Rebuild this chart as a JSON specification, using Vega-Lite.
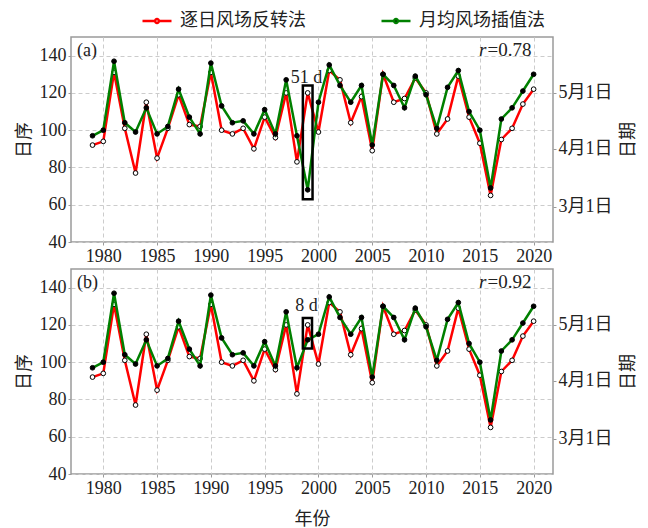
{
  "$schema": "https://vega.github.io/schema/vega-lite/v6.json",
  "padding": {"left": 14, "top": 5, "right": 5, "bottom": 5},
  "background": "white",
  "config": {
    "font": "Liberation Serif, Noto Sans CJK SC",
    "view": {"stroke": "#9a9a9a", "strokeWidth": 1.5},
    "axis": {
      "labelFont": "Liberation Serif, Noto Sans CJK SC",
      "titleFont": "Liberation Serif, Noto Sans CJK SC",
      "labelFontSize": 18, "titleFontSize": 18,
      "labelColor": "#222", "titleColor": "#222",
      "titleFontWeight": "normal",
      "domain": false, "tickColor": "#9a9a9a", "tickSize": 3,
      "labelPadding": 2,
      "gridColor": "#cccccc", "gridDash": [4, 3], "gridWidth": 1
    },
    "legend": {"labelFont": "Liberation Serif, Noto Sans CJK SC"}
  },
  "datasets": {
    "a": [
      {"year": 1979, "daily": 92, "monthly": 97},
      {"year": 1980, "daily": 94, "monthly": 100},
      {"year": 1981, "daily": 131, "monthly": 137},
      {"year": 1982, "daily": 101, "monthly": 104},
      {"year": 1983, "daily": 77, "monthly": 99},
      {"year": 1984, "daily": 115, "monthly": 112},
      {"year": 1985, "daily": 85, "monthly": 98},
      {"year": 1986, "daily": 101, "monthly": 102},
      {"year": 1987, "daily": 119, "monthly": 122},
      {"year": 1988, "daily": 103, "monthly": 107},
      {"year": 1989, "daily": 102, "monthly": 98},
      {"year": 1990, "daily": 131, "monthly": 136},
      {"year": 1991, "daily": 100, "monthly": 113},
      {"year": 1992, "daily": 98, "monthly": 104},
      {"year": 1993, "daily": 101, "monthly": 105},
      {"year": 1994, "daily": 90, "monthly": 98},
      {"year": 1995, "daily": 107, "monthly": 111},
      {"year": 1996, "daily": 96, "monthly": 98},
      {"year": 1997, "daily": 120, "monthly": 127},
      {"year": 1998, "daily": 83, "monthly": 97},
      {"year": 1999, "daily": 120, "monthly": 68},
      {"year": 2000, "daily": 99, "monthly": 115},
      {"year": 2001, "daily": 132, "monthly": 135},
      {"year": 2002, "daily": 127, "monthly": 124},
      {"year": 2003, "daily": 104, "monthly": 115},
      {"year": 2004, "daily": 118, "monthly": 124},
      {"year": 2005, "daily": 89, "monthly": 92},
      {"year": 2006, "daily": 130, "monthly": 130},
      {"year": 2007, "daily": 115, "monthly": 124},
      {"year": 2008, "daily": 117, "monthly": 112},
      {"year": 2009, "daily": 128, "monthly": 129},
      {"year": 2010, "daily": 120, "monthly": 119},
      {"year": 2011, "daily": 98, "monthly": 101},
      {"year": 2012, "daily": 106, "monthly": 123},
      {"year": 2013, "daily": 129, "monthly": 132},
      {"year": 2014, "daily": 107, "monthly": 110},
      {"year": 2015, "daily": 93, "monthly": 100},
      {"year": 2016, "daily": 65, "monthly": 69},
      {"year": 2017, "daily": 95, "monthly": 106},
      {"year": 2018, "daily": 101, "monthly": 112},
      {"year": 2019, "daily": 114, "monthly": 121},
      {"year": 2020, "daily": 122, "monthly": 130}
    ],
    "b": [
      {"year": 1979, "daily": 92, "monthly": 97},
      {"year": 1980, "daily": 94, "monthly": 100},
      {"year": 1981, "daily": 131, "monthly": 137},
      {"year": 1982, "daily": 101, "monthly": 104},
      {"year": 1983, "daily": 77, "monthly": 99},
      {"year": 1984, "daily": 115, "monthly": 112},
      {"year": 1985, "daily": 85, "monthly": 98},
      {"year": 1986, "daily": 101, "monthly": 102},
      {"year": 1987, "daily": 119, "monthly": 122},
      {"year": 1988, "daily": 103, "monthly": 107},
      {"year": 1989, "daily": 102, "monthly": 98},
      {"year": 1990, "daily": 131, "monthly": 136},
      {"year": 1991, "daily": 100, "monthly": 113},
      {"year": 1992, "daily": 98, "monthly": 104},
      {"year": 1993, "daily": 101, "monthly": 105},
      {"year": 1994, "daily": 90, "monthly": 98},
      {"year": 1995, "daily": 107, "monthly": 111},
      {"year": 1996, "daily": 96, "monthly": 98},
      {"year": 1997, "daily": 120, "monthly": 127},
      {"year": 1998, "daily": 83, "monthly": 97},
      {"year": 1999, "daily": 120, "monthly": 112},
      {"year": 2000, "daily": 99, "monthly": 115},
      {"year": 2001, "daily": 132, "monthly": 135},
      {"year": 2002, "daily": 127, "monthly": 124},
      {"year": 2003, "daily": 104, "monthly": 115},
      {"year": 2004, "daily": 118, "monthly": 124},
      {"year": 2005, "daily": 89, "monthly": 92},
      {"year": 2006, "daily": 130, "monthly": 130},
      {"year": 2007, "daily": 115, "monthly": 124},
      {"year": 2008, "daily": 117, "monthly": 112},
      {"year": 2009, "daily": 128, "monthly": 129},
      {"year": 2010, "daily": 120, "monthly": 119},
      {"year": 2011, "daily": 98, "monthly": 101},
      {"year": 2012, "daily": 106, "monthly": 123},
      {"year": 2013, "daily": 129, "monthly": 132},
      {"year": 2014, "daily": 107, "monthly": 110},
      {"year": 2015, "daily": 93, "monthly": 100},
      {"year": 2016, "daily": 65, "monthly": 69},
      {"year": 2017, "daily": 95, "monthly": 106},
      {"year": 2018, "daily": 101, "monthly": 112},
      {"year": 2019, "daily": 114, "monthly": 121},
      {"year": 2020, "daily": 122, "monthly": 130}
    ]
  },
  "vconcat": [
    {
      "width": 482, "height": 205,
      "layer": [
        {
          "data": {"name": "a"},
          "layer": [
            {
              "mark": {"type": "line", "strokeWidth": 2.5},
              "encoding": {
                "x": {"field": "year", "type": "quantitative", "scale": {"domain": [1977, 2021.8], "nice": false, "zero": false}, "axis": {"values": [1980, 1985, 1990, 1995, 2000, 2005, 2010, 2015, 2020], "format": "d", "title": null, "labelFlush": false}},
                "y": {"field": "daily", "type": "quantitative", "scale": {"domain": [40, 150], "nice": false, "zero": false}, "axis": {"values": [40, 50, 60, 70, 80, 90, 100, 110, 120, 130, 140, 150], "labelExpr": "datum.value % 20 == 0 ? datum.label : ''", "title": "日序", "titlePadding": 6, "labelFlush": false}},
                "stroke": {"datum": "逐日风场反转法", "type": "nominal", "scale": {"domain": ["逐日风场反转法", "月均风场插值法"], "range": ["#ff0000", "#008000"]},
                  "legend": {"title": null, "orient": "none", "legendX": 70, "legendY": -32, "direction": "horizontal", "symbolType": "M-1,0L-0.2,0M0.2,0L1,0M-0.13,0A0.13,0.13,0,1,0,0.13,0A0.13,0.13,0,1,0,-0.13,0Z", "symbolSize": 841, "symbolStrokeWidth": 2.5, "labelFontSize": 18, "labelColor": "#222", "labelOffset": 7, "columnPadding": 70}}
              }
            },
            {
              "mark": {"type": "point", "filled": true, "size": 22, "stroke": "black", "strokeWidth": 1, "opacity": 1},
              "encoding": {
                "x": {"field": "year", "type": "quantitative", "scale": {"domain": [1977, 2021.8], "nice": false, "zero": false}},
                "y": {"field": "daily", "type": "quantitative", "scale": {"domain": [40, 150], "nice": false, "zero": false}},
                "fill": {"datum": "逐日风场反转法", "type": "nominal", "scale": {"domain": ["逐日风场反转法", "月均风场插值法"], "range": ["white", "black"]},
                  "legend": {"title": null, "orient": "none", "legendX": 70, "legendY": -32, "direction": "horizontal", "symbolType": "M-1,0L-0.2,0M0.2,0L1,0M-0.13,0A0.13,0.13,0,1,0,0.13,0A0.13,0.13,0,1,0,-0.13,0Z", "symbolSize": 841, "symbolStrokeWidth": 2.5, "labelFontSize": 18, "labelColor": "#222", "labelOffset": 7, "columnPadding": 70}}
              }
            },
            {
              "mark": {"type": "line", "strokeWidth": 2.5},
              "encoding": {
                "x": {"field": "year", "type": "quantitative", "scale": {"domain": [1977, 2021.8], "nice": false, "zero": false}},
                "y": {"field": "monthly", "type": "quantitative", "scale": {"domain": [40, 150], "nice": false, "zero": false}},
                "stroke": {"datum": "月均风场插值法", "type": "nominal"}
              }
            },
            {
              "mark": {"type": "point", "filled": true, "size": 22, "stroke": "black", "strokeWidth": 1, "opacity": 1},
              "encoding": {
                "x": {"field": "year", "type": "quantitative", "scale": {"domain": [1977, 2021.8], "nice": false, "zero": false}},
                "y": {"field": "monthly", "type": "quantitative", "scale": {"domain": [40, 150], "nice": false, "zero": false}},
                "fill": {"datum": "月均风场插值法", "type": "nominal"}
              }
            },
            {
              "data": {"values": [{}]},
              "mark": {"type": "rect", "filled": false, "stroke": "black", "strokeWidth": 2.5},
              "encoding": {
                "x": {"datum": 1998.55, "type": "quantitative", "scale": {"domain": [1977, 2021.8], "nice": false, "zero": false}},
                "x2": {"datum": 1999.45},
                "y": {"datum": 63, "type": "quantitative", "scale": {"domain": [40, 150], "nice": false, "zero": false}},
                "y2": {"datum": 124}
              }
            },
            {
              "data": {"values": [{}]},
              "mark": {"type": "text", "text": "51 d", "fontSize": 18, "align": "center", "baseline": "alphabetic", "color": "#222"},
              "encoding": {
                "x": {"datum": 1998.9, "type": "quantitative", "scale": {"domain": [1977, 2021.8], "nice": false, "zero": false}},
                "y": {"datum": 125.5, "type": "quantitative", "scale": {"domain": [40, 150], "nice": false, "zero": false}}
              }
            },
            {
              "data": {"values": [{}]},
              "mark": {"type": "text", "text": "(a)", "fontSize": 18, "align": "left", "baseline": "middle", "color": "#222"},
              "encoding": {
                "x": {"datum": 1977.55, "type": "quantitative", "scale": {"domain": [1977, 2021.8], "nice": false, "zero": false}},
                "y": {"datum": 142.5, "type": "quantitative", "scale": {"domain": [40, 150], "nice": false, "zero": false}}
              }
            },
            {
              "data": {"values": [{}]},
              "mark": {"type": "text", "text": "r", "fontSize": 19, "fontStyle": "italic", "align": "right", "baseline": "alphabetic", "color": "#222"},
              "encoding": {
                "x": {"datum": 2015.6, "type": "quantitative", "scale": {"domain": [1977, 2021.8], "nice": false, "zero": false}},
                "y": {"datum": 139.6, "type": "quantitative", "scale": {"domain": [40, 150], "nice": false, "zero": false}}
              }
            },
            {
              "data": {"values": [{}]},
              "mark": {"type": "text", "text": "=0.78", "fontSize": 19, "align": "right", "baseline": "alphabetic", "color": "#222"},
              "encoding": {
                "x": {"datum": 2019.8, "type": "quantitative", "scale": {"domain": [1977, 2021.8], "nice": false, "zero": false}},
                "y": {"datum": 139.6, "type": "quantitative", "scale": {"domain": [40, 150], "nice": false, "zero": false}}
              }
            }
          ]
        },
        {
          "data": {"name": "a"},
          "mark": {"type": "point", "opacity": 0},
          "encoding": {
            "x": {"field": "year", "type": "quantitative", "scale": {"domain": [1977, 2021.8], "nice": false, "zero": false}},
            "y": {"field": "daily", "type": "quantitative", "scale": {"domain": [40, 150], "nice": false, "zero": false}, "axis": {"orient": "right", "values": [59, 90, 120], "labelExpr": "datum.value == 59 ? '3月1日' : datum.value == 90 ? '4月1日' : '5月1日'", "title": "日期", "titleAngle": 270, "titleBaseline": "top", "titlePadding": 8, "grid": false, "labelFlush": false}}
          }
        }
      ],
      "resolve": {"scale": {"y": "independent"}}
    },
    {
      "width": 482, "height": 205,
      "layer": [
        {
          "data": {"name": "b"},
          "layer": [
            {
              "mark": {"type": "line", "strokeWidth": 2.5},
              "encoding": {
                "x": {"field": "year", "type": "quantitative", "scale": {"domain": [1977, 2021.8], "nice": false, "zero": false}, "axis": {"values": [1980, 1985, 1990, 1995, 2000, 2005, 2010, 2015, 2020], "format": "d", "title": "年份", "titlePadding": 13, "labelFlush": false}},
                "y": {"field": "daily", "type": "quantitative", "scale": {"domain": [40, 150], "nice": false, "zero": false}, "axis": {"values": [40, 50, 60, 70, 80, 90, 100, 110, 120, 130, 140, 150], "labelExpr": "datum.value % 20 == 0 ? datum.label : ''", "title": "日序", "titlePadding": 6, "labelFlush": false}},
                "stroke": {"datum": "逐日风场反转法", "type": "nominal"}
              }
            },
            {
              "mark": {"type": "point", "filled": true, "size": 22, "stroke": "black", "strokeWidth": 1, "opacity": 1},
              "encoding": {
                "x": {"field": "year", "type": "quantitative", "scale": {"domain": [1977, 2021.8], "nice": false, "zero": false}},
                "y": {"field": "daily", "type": "quantitative", "scale": {"domain": [40, 150], "nice": false, "zero": false}},
                "fill": {"datum": "逐日风场反转法", "type": "nominal"}
              }
            },
            {
              "mark": {"type": "line", "strokeWidth": 2.5},
              "encoding": {
                "x": {"field": "year", "type": "quantitative", "scale": {"domain": [1977, 2021.8], "nice": false, "zero": false}},
                "y": {"field": "monthly", "type": "quantitative", "scale": {"domain": [40, 150], "nice": false, "zero": false}},
                "stroke": {"datum": "月均风场插值法", "type": "nominal"}
              }
            },
            {
              "mark": {"type": "point", "filled": true, "size": 22, "stroke": "black", "strokeWidth": 1, "opacity": 1},
              "encoding": {
                "x": {"field": "year", "type": "quantitative", "scale": {"domain": [1977, 2021.8], "nice": false, "zero": false}},
                "y": {"field": "monthly", "type": "quantitative", "scale": {"domain": [40, 150], "nice": false, "zero": false}},
                "fill": {"datum": "月均风场插值法", "type": "nominal"}
              }
            },
            {
              "data": {"values": [{}]},
              "mark": {"type": "rect", "filled": false, "stroke": "black", "strokeWidth": 2.5},
              "encoding": {
                "x": {"datum": 1998.55, "type": "quantitative", "scale": {"domain": [1977, 2021.8], "nice": false, "zero": false}},
                "x2": {"datum": 1999.4},
                "y": {"datum": 107.3, "type": "quantitative", "scale": {"domain": [40, 150], "nice": false, "zero": false}},
                "y2": {"datum": 123.7}
              }
            },
            {
              "data": {"values": [{}]},
              "mark": {"type": "text", "text": "8 d", "fontSize": 18, "align": "center", "baseline": "alphabetic", "color": "#222"},
              "encoding": {
                "x": {"datum": 1998.9, "type": "quantitative", "scale": {"domain": [1977, 2021.8], "nice": false, "zero": false}},
                "y": {"datum": 127.3, "type": "quantitative", "scale": {"domain": [40, 150], "nice": false, "zero": false}}
              }
            },
            {
              "data": {"values": [{}]},
              "mark": {"type": "text", "text": "(b)", "fontSize": 18, "align": "left", "baseline": "middle", "color": "#222"},
              "encoding": {
                "x": {"datum": 1977.55, "type": "quantitative", "scale": {"domain": [1977, 2021.8], "nice": false, "zero": false}},
                "y": {"datum": 142.5, "type": "quantitative", "scale": {"domain": [40, 150], "nice": false, "zero": false}}
              }
            },
            {
              "data": {"values": [{}]},
              "mark": {"type": "text", "text": "r", "fontSize": 19, "fontStyle": "italic", "align": "right", "baseline": "alphabetic", "color": "#222"},
              "encoding": {
                "x": {"datum": 2015.6, "type": "quantitative", "scale": {"domain": [1977, 2021.8], "nice": false, "zero": false}},
                "y": {"datum": 139.6, "type": "quantitative", "scale": {"domain": [40, 150], "nice": false, "zero": false}}
              }
            },
            {
              "data": {"values": [{}]},
              "mark": {"type": "text", "text": "=0.92", "fontSize": 19, "align": "right", "baseline": "alphabetic", "color": "#222"},
              "encoding": {
                "x": {"datum": 2019.8, "type": "quantitative", "scale": {"domain": [1977, 2021.8], "nice": false, "zero": false}},
                "y": {"datum": 139.6, "type": "quantitative", "scale": {"domain": [40, 150], "nice": false, "zero": false}}
              }
            }
          ]
        },
        {
          "data": {"name": "b"},
          "mark": {"type": "point", "opacity": 0},
          "encoding": {
            "x": {"field": "year", "type": "quantitative", "scale": {"domain": [1977, 2021.8], "nice": false, "zero": false}},
            "y": {"field": "daily", "type": "quantitative", "scale": {"domain": [40, 150], "nice": false, "zero": false}, "axis": {"orient": "right", "values": [59, 90, 120], "labelExpr": "datum.value == 59 ? '3月1日' : datum.value == 90 ? '4月1日' : '5月1日'", "title": "日期", "titleAngle": 270, "titleBaseline": "top", "titlePadding": 8, "grid": false, "labelFlush": false}}
          }
        }
      ],
      "resolve": {"scale": {"y": "independent"}}
    }
  ],
  "spacing": 2
}
